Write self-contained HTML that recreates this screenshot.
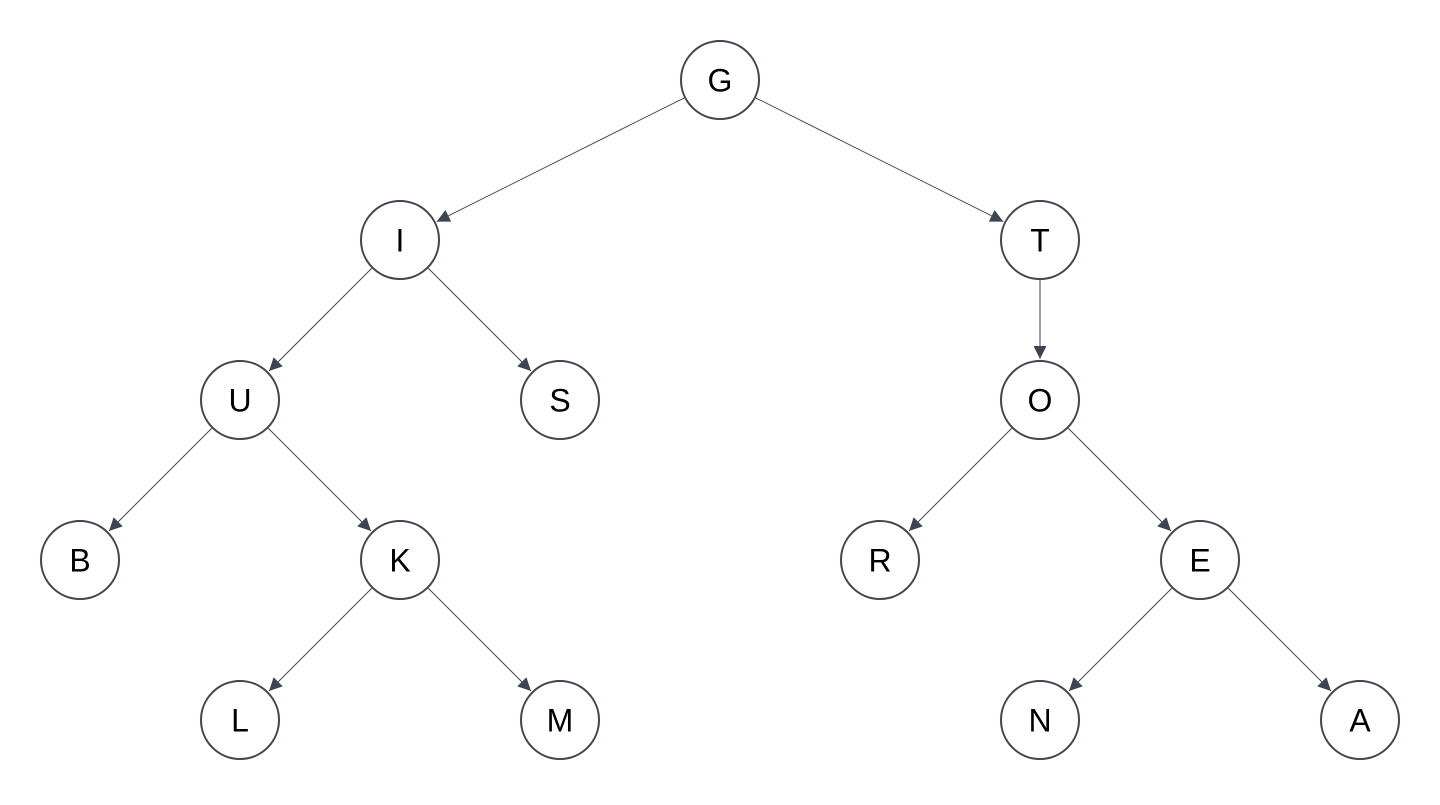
<!DOCTYPE html>
<html><head><style>html,body{margin:0;padding:0;background:#fff}</style></head><body>
<svg width="1440" height="800" viewBox="0 0 1440 800" xmlns="http://www.w3.org/2000/svg">
<defs><marker id="a" viewBox="0 0 10 10" refX="10" refY="5" markerWidth="14" markerHeight="13" markerUnits="userSpaceOnUse" orient="auto"><path d="M0,0L10,5L0,10z" fill="#3f4550"/></marker></defs>
<g id="edges" stroke="#3f4550" stroke-width="1" fill="none"></g>
<g id="nodes"></g>
</svg>
<script>
var N={G:[720,80],I:[400,240],T:[1040,240],U:[240,400],S:[560,400],O:[1040,400],B:[80,560],K:[400,560],R:[880,560],E:[1200,560],L:[240,720],M:[560,720],Nn:[1040,720],A:[1360,720]};
var E=[["G","I"],["G","T"],["I","U"],["I","S"],["T","O"],["U","B"],["U","K"],["O","R"],["O","E"],["K","L"],["K","M"],["E","Nn"],["E","A"]];
var ns="http://www.w3.org/2000/svg",eg=document.getElementById("edges"),ng=document.getElementById("nodes");
E.forEach(function(e){var p=N[e[0]],q=N[e[1]],dx=q[0]-p[0],dy=q[1]-p[1],d=Math.hypot(dx,dy),ux=dx/d,uy=dy/d;
var l=document.createElementNS(ns,"line");l.setAttribute("x1",p[0]+ux*40);l.setAttribute("y1",p[1]+uy*40);l.setAttribute("x2",q[0]-ux*41);l.setAttribute("y2",q[1]-uy*41);l.setAttribute("marker-end","url(#a)");eg.appendChild(l);});
for(var k in N){var p=N[k];var c=document.createElementNS(ns,"circle");c.setAttribute("cx",p[0]);c.setAttribute("cy",p[1]);c.setAttribute("r",39);c.setAttribute("fill","#fff");c.setAttribute("stroke","#3f4550");c.setAttribute("stroke-width","2");ng.appendChild(c);
var t=document.createElementNS(ns,"text");t.setAttribute("x",p[0]);t.setAttribute("y",p[1]+11.5);t.setAttribute("text-anchor","middle");t.setAttribute("font-family","Liberation Sans, sans-serif");t.setAttribute("font-size","32");t.setAttribute("fill","#000");t.textContent=k==="Nn"?"N":k;ng.appendChild(t);}
</script>
</body></html>
